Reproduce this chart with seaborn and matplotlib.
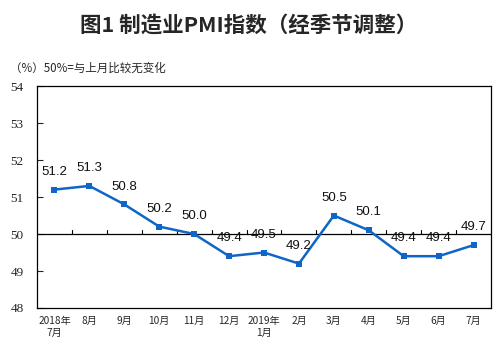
import numpy as np
import pandas as pd
import seaborn as sns
import matplotlib.pyplot as plt

# data
months = ['2018年\n7月', '8月', '9月', '10月', '11月', '12月', '2019年\n1月',
          '2月', '3月', '4月', '5月', '6月', '7月']
pmi = [51.2, 51.3, 50.8, 50.2, 50.0, 49.4, 49.5, 49.2, 50.5, 50.1, 49.4, 49.4, 49.7]

df = pd.DataFrame({'idx': np.arange(len(months)), 'pmi': pmi})

sns.set_style('white')
plt.rcParams['font.family'] = ['Noto Sans CJK SC', 'DejaVu Sans']

fig = plt.figure(figsize=(4.98, 3.55), dpi=100)
ax = fig.add_axes([0.0743, 0.1324, 0.9117, 0.6253])

line_color = '#0f66c8'
sns.lineplot(data=df, x='idx', y='pmi', ax=ax, color=line_color, linewidth=1.8,
             marker='s', markersize=4.5, markeredgewidth=0, markerfacecolor=line_color)

# value labels above each point
for i, v in enumerate(pmi):
    ax.annotate(f'{v:.1f}', (i, v), xytext=(0, 8.5), textcoords='offset points',
                ha='center', va='bottom', fontsize=9.5, family='Liberation Sans',
                color='#111111')

# 50 reference line with small ticks between months
ax.axhline(50, color='black', linewidth=0.9, zorder=1)
for b in np.arange(0.5, len(months) - 1, 1.0):
    ax.plot([b, b], [50, 50.1], color='black', linewidth=0.8, zorder=1)

ax.set_xlim(-0.5, len(months) - 0.5)
ax.set_ylim(48, 54)
ax.set_yticks(range(48, 55))
ax.set_yticklabels([str(t) for t in range(48, 55)], family='Liberation Serif', fontsize=9.5)
ax.set_xticks(range(len(months)))
ax.set_xticklabels(months, fontsize=7.3, linespacing=1.25)
ax.tick_params(axis='x', length=0, pad=6)
ax.tick_params(axis='y', direction='in', length=4, width=0.8, left=True, pad=19)
for lbl in ax.get_yticklabels():
    lbl.set_horizontalalignment('left')
ax.set_xlabel('')
ax.set_ylabel('')
for s in ax.spines.values():
    s.set_visible(True)
    s.set_color('black')
    s.set_linewidth(0.9)

fig.text(0.5, 0.93, '图1 制造业PMI指数（经季节调整）', ha='center', va='center',
         fontsize=15.5, fontweight='bold')
fig.text(0.02, 0.808, '（%）50%=与上月比较无变化', ha='left', va='center', fontsize=8.3)

fig.savefig('out.png', dpi=100)
